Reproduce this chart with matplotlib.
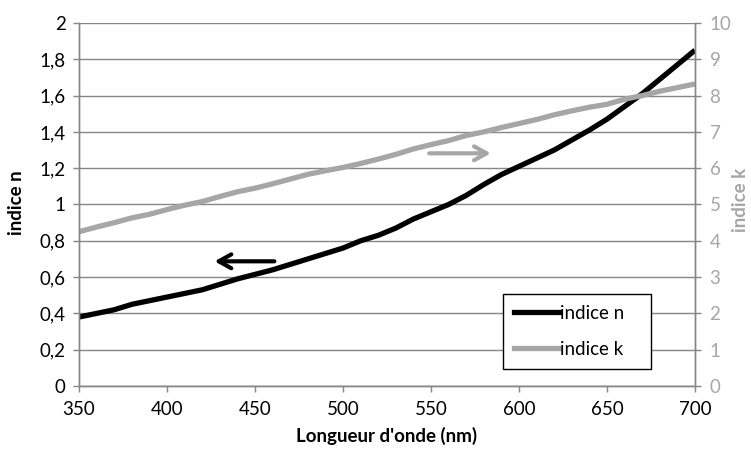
import matplotlib.pyplot as plt
from matplotlib.lines import Line2D

plt.rcParams['font.family'] = ['Lato', 'DejaVu Sans']

# longueurs d'onde (nm)
wavelength = [350, 360, 370, 380, 390, 400, 410, 420, 430, 440, 450, 460,
              470, 480, 490, 500, 510, 520, 530, 540, 550, 560, 570, 580,
              590, 600, 610, 620, 630, 640, 650, 660, 670, 680, 690, 700]

# indice n (axe gauche)
indice_n = [0.38, 0.40, 0.42, 0.45, 0.47, 0.49, 0.51, 0.53, 0.56, 0.59, 0.615, 0.64,
            0.67, 0.70, 0.73, 0.76, 0.80, 0.83, 0.87, 0.92, 0.96, 1.00, 1.05, 1.11,
            1.165, 1.21, 1.255, 1.30, 1.355, 1.41, 1.47, 1.54, 1.61, 1.69, 1.77, 1.85]

# indice k (axe droit)
indice_k = [4.25, 4.38, 4.50, 4.63, 4.73, 4.86, 4.98, 5.08, 5.22, 5.35, 5.45, 5.57,
            5.70, 5.83, 5.93, 6.02, 6.13, 6.25, 6.38, 6.53, 6.65, 6.76, 6.90, 7.00,
            7.12, 7.23, 7.34, 7.47, 7.58, 7.68, 7.76, 7.90, 8.00, 8.12, 8.22, 8.32]

x_ticks = [350, 400, 450, 500, 550, 600, 650, 700]
n_ticks = [0, 0.2, 0.4, 0.6, 0.8, 1, 1.2, 1.4, 1.6, 1.8, 2]
k_ticks = [0, 1, 2, 3, 4, 5, 6, 7, 8, 9, 10]

# fleches (queue -> pointe)
arrow_n = ((461, 0.687), (427, 0.687))
arrow_k = ((549, 6.41), (584, 6.41))

GREY = "#a6a6a6"
AXIS_GREY = "#868686"

fig = plt.figure(figsize=(7.51, 4.49), dpi=100)
ax = fig.add_axes([0.1052, 0.1403, 0.8202, 0.8085])
ax2 = ax.twinx()

ax.plot(wavelength, indice_n, color="black", lw=3.8, solid_capstyle="butt")
ax2.plot(wavelength, indice_k, color=GREY, lw=3.8, solid_capstyle="butt")

ax.set_xlim(350, 700)
ax.set_ylim(0, 2)
ax2.set_ylim(0, 10)

ax.set_xticks(x_ticks)
ax.set_yticks(n_ticks)
ax.set_yticklabels([f"{v:g}".replace(".", ",") for v in n_ticks])
ax2.set_yticks(k_ticks)

ax.grid(axis="y", color=AXIS_GREY, lw=1)
ax.set_axisbelow(True)

for a in (ax, ax2):
    a.spines["top"].set_visible(False)
    for s in ("left", "right", "bottom"):
        a.spines[s].set_color(AXIS_GREY)
        a.spines[s].set_linewidth(1)
    a.tick_params(length=4.5, width=1, color=AXIS_GREY, labelsize=13.5)
ax.tick_params(axis="both", labelcolor="black", pad=5)
ax.tick_params(axis="x", pad=6)
ax2.tick_params(axis="y", labelcolor=GREY, pad=6)

ax.set_xlabel("Longueur d'onde (nm)", fontsize=13.5, fontweight="bold", labelpad=7)
fig.text(0.011, 0.548, "indice n", rotation=90, ha="left", va="center",
         fontsize=13.5, fontweight="bold")
fig.text(0.997, 0.555, "indice k", rotation=90, ha="right", va="center",
         fontsize=13.5, fontweight="bold", color=GREY)

ax.annotate("", xy=arrow_n[1], xytext=arrow_n[0],
            arrowprops=dict(arrowstyle="->,head_length=0.9,head_width=0.5",
                            color="black", lw=3, shrinkA=0, shrinkB=0))
ax2.annotate("", xy=arrow_k[1], xytext=arrow_k[0],
             arrowprops=dict(arrowstyle="->,head_length=0.9,head_width=0.5",
                             color=GREY, lw=3, shrinkA=0, shrinkB=0))

handles = [Line2D([], [], color="black", lw=3.8),
           Line2D([], [], color=GREY, lw=3.8)]
leg = ax2.legend(handles, ["indice n", "indice k"], loc="lower left",
                 bbox_to_anchor=(0.688, 0.047, 0.241, 0.209), mode="expand",
                 fontsize=13.5, frameon=True, fancybox=False, framealpha=1,
                 edgecolor="black", handlelength=2.4, handletextpad=0.05,
                 borderpad=0.6, labelspacing=1.0, borderaxespad=0)
leg.get_frame().set_linewidth(1)

fig.savefig("out.png", dpi=100)
